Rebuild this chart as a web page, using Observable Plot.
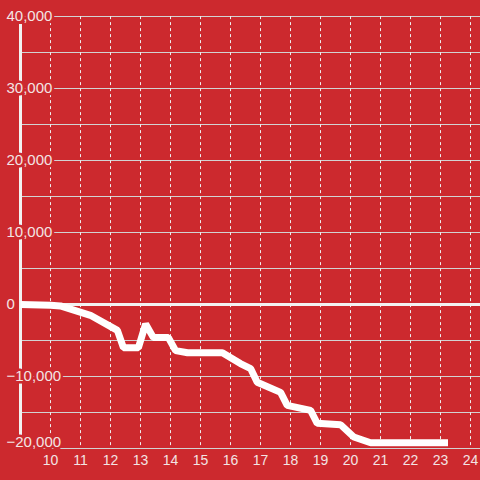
<!DOCTYPE html>
<html><head><meta charset="utf-8">
<script src="https://cdn.jsdelivr.net/npm/d3@7"></script>
<script src="https://cdn.jsdelivr.net/npm/@observablehq/plot@0.6"></script>
<style>
html,body{margin:0;padding:0;background:#cc292e;}
</style>
</head><body><div id="chart"></div>
<script>
const times = [9.0, 10.0, 10.33, 11.33, 12.23, 12.43, 12.93, 13.17, 13.43, 13.93, 14.17, 14.57, 15.73, 16.33, 16.67, 16.89, 17.67, 17.89, 18.67, 18.89, 19.67, 20.11, 20.67, 23.25];
const values = [0, -100, -200, -1500, -3600, -6000, -6000, -2700, -4600, -4600, -6400, -6700, -6700, -8200, -8900, -10800, -12200, -14000, -14700, -16500, -16700, -18400, -19200, -19200];
const xTicks = [10, 11, 12, 13, 14, 15, 16, 17, 18, 19, 20, 21, 22, 23, 24];
const yTicks = [-10000, 0, 10000, 20000, 30000, 40000];
const yBottomTick = [-20000];
const yGrid = [-20000, -15000, -10000, -5000, 0, 5000, 10000, 15000, 20000, 25000, 30000, 35000, 40000];

const data = times.map((t, i) => ({t, v: values[i]}));
const bg = "#cc292e";
const fmt = d3.format(",");
const labelStyle = {x: 9, y: d => d, text: d => fmt(d), dx: -14, textAnchor: "start", fill: "#f3e4e4", fontSize: 15, stroke: bg, strokeWidth: 5, paintOrder: "stroke"};

const chart = Plot.plot({
  width: 480, height: 480,
  marginLeft: 20, marginRight: 0, marginTop: 16, marginBottom: 32,
  style: {background: bg, fontFamily: "Liberation Sans, Arial, sans-serif"},
  x: {domain: [9, 24 + 1/3], axis: null},
  y: {domain: [-20000, 40000], axis: null},
  marks: [
    Plot.ruleY(yGrid, {y: d => d, stroke: "#d2d2d2", strokeWidth: 1}),
    Plot.ruleX(xTicks, {x: d => d, y1: -19600, y2: 40000, stroke: "#eeeeee", strokeWidth: 1, strokeDasharray: "3,3"}),
    Plot.ruleX([9], {x: d => d, y1: -18200, y2: 38900, stroke: "#f2f2f2", strokeWidth: 3}),
    Plot.ruleY([0], {y: d => d, stroke: "#f2f2f2", strokeWidth: 3}),
    Plot.line(data, {x: "t", y: "v", stroke: "#ffffff", strokeWidth: 7, strokeLinecap: "butt", strokeLinejoin: "miter", curve: "linear"}),
    Plot.text(yTicks, labelStyle),
    Plot.text(yBottomTick, {...labelStyle, dy: -6}),
    Plot.text(xTicks, {x: d => d, y: -20000, text: d => String(d), dy: 12, fill: "#f3e4e4", fontSize: 14})
  ]
});
document.getElementById("chart").appendChild(chart);
</script>
</body></html>
